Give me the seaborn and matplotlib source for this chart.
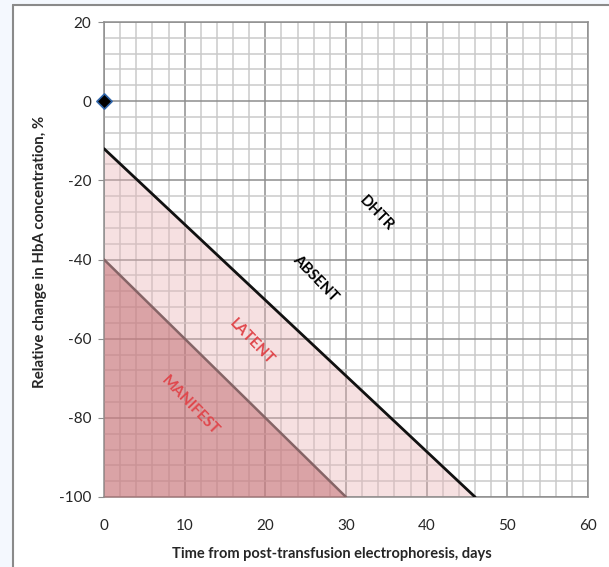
import matplotlib
matplotlib.use("Agg")
import matplotlib.pyplot as plt
import seaborn as sns
import pandas as pd
from matplotlib.ticker import MultipleLocator
from matplotlib.lines import Line2D
from matplotlib.patches import Rectangle

# data
absent_days = [0, 46]
absent_change = [-12, -100]
manifest_days = [0, 30]
manifest_change = [-40, -100]
start_day = [0]
start_change = [0]

zone_names = ["DHTR", "ABSENT", "LATENT", "MANIFEST"]
zone_x = [33.7, 26.2, 18.3, 10.7]
zone_y = [-28.3, -44.7, -60.8, -76.8]
zone_colors = ["black", "black", "#e0474c", "#e0474c"]

sns.set_style("white")
plt.rcParams['font.family'] = ['Lato', 'DejaVu Sans']
plt.rcParams['axes.unicode_minus'] = False

fig = plt.figure(figsize=(6.09, 5.67), dpi=100)
fig.patch.set_facecolor("#f4f8fe")
# white chart area with grey frame, like the screenshot
fig.add_artist(Rectangle((13 / 609, 0), 1, 1 - 5 / 567, transform=fig.transFigure,
                         facecolor="white", edgecolor="none", zorder=0))
fig.add_artist(Line2D([12.5 / 609, 12.5 / 609], [0, 1 - 4.5 / 567], transform=fig.transFigure,
                      color="#8a8a8a", lw=1.5))
fig.add_artist(Line2D([12.5 / 609, 1], [1 - 4.5 / 567, 1 - 4.5 / 567], transform=fig.transFigure,
                      color="#8a8a8a", lw=1.5))

ax = fig.add_axes([104 / 609, 1 - 497 / 567, 484 / 609, 475 / 567])
ax.set_facecolor("none")

ax.set_xlim(0, 60)
ax.set_ylim(-100, 20)
ax.xaxis.set_major_locator(MultipleLocator(10))
ax.xaxis.set_minor_locator(MultipleLocator(2))
ax.yaxis.set_major_locator(MultipleLocator(20))
ax.yaxis.set_minor_locator(MultipleLocator(4))
ax.grid(which="minor", color="#cacaca", lw=1.1, zorder=0)
ax.grid(which="major", color="#8e8e8e", lw=1.1, zorder=0)
ax.set_axisbelow(True)

ax.fill_between(absent_days, absent_change, -100, color="#e9b3b6", alpha=0.4, lw=0, zorder=2)
ax.fill_between(manifest_days, manifest_change, -100, color="#c0686c", alpha=0.5, lw=0, zorder=3)

df_abs = pd.DataFrame({"day": absent_days, "change": absent_change})
df_man = pd.DataFrame({"day": manifest_days, "change": manifest_change})
sns.lineplot(data=df_abs, x="day", y="change", ax=ax, color="#111111", lw=2, zorder=4)
sns.lineplot(data=df_man, x="day", y="change", ax=ax, color="#856466", lw=1.8, zorder=4)
sns.scatterplot(x=start_day, y=start_change, ax=ax, marker="D", s=60,
                color="black", edgecolor="#2f64a8", linewidth=1.2, zorder=6)
for c in ax.collections:
    c.set_clip_on(False)

for name, x, y, col in zip(zone_names, zone_x, zone_y, zone_colors):
    ax.text(x, y, name, rotation=-46, ha="center", va="center", fontsize=11,
            fontweight="bold", color=col, zorder=7)

for side in ["left", "bottom", "right", "top"]:
    ax.spines[side].set_visible(True)
    ax.spines[side].set_color("#8e8e8e")
    ax.spines[side].set_linewidth(1.1)

ax.tick_params(axis="y", which="major", length=4, color="#8e8e8e", pad=5, labelsize=11, left=True)
ax.tick_params(axis="y", which="minor", length=0)
ax.tick_params(axis="x", which="both", length=0, pad=16, labelsize=11)

ax.set_xlabel("Time from post-transfusion electrophoresis, days", fontsize=10.5, fontweight="bold")
ax.set_ylabel("Relative change in HbA concentration, %", fontsize=10.8, fontweight="bold")
ax.xaxis.set_label_coords(0.47, -0.105)
ax.yaxis.set_label_coords(-0.118, 0.516)

fig.savefig("out.png", dpi=100, facecolor=fig.get_facecolor())
